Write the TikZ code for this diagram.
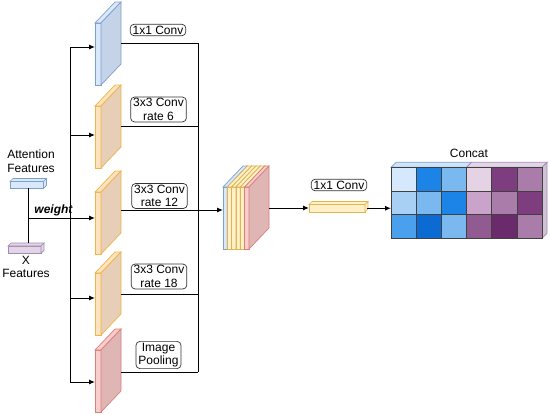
\documentclass[tikz,border=0pt]{standalone}
\usepackage{fontspec}
\setmainfont{Liberation Sans}
\usetikzlibrary{arrows.meta}
%colours
\definecolor{bfront}{HTML}{DAE8FC}
\definecolor{bside}{HTML}{C5D3E8}
\definecolor{bline}{HTML}{7F9FCB}
\definecolor{ofront}{HTML}{FDE3BD}
\definecolor{oside}{HTML}{E6CFB6}
\definecolor{oline}{HTML}{EDB54A}
\definecolor{rfront}{HTML}{F8CECC}
\definecolor{rside}{HTML}{DFB6B4}
\definecolor{rline}{HTML}{D9807C}
\definecolor{yfront}{HTML}{FFF0C8}
\definecolor{yline}{HTML}{E0B452}
\definecolor{pfront}{HTML}{E1D5E7}
\definecolor{pline}{HTML}{A58BB3}
\definecolor{bl1}{HTML}{D6E8FB}
\definecolor{bl2}{HTML}{A8D0F5}
\definecolor{bl3}{HTML}{7AB8F0}
\definecolor{bl4}{HTML}{4AA0EC}
\definecolor{bl5}{HTML}{1C84E6}
\definecolor{bl6}{HTML}{0B6BD3}
\definecolor{pu1}{HTML}{E5D2E5}
\definecolor{pu2}{HTML}{C9A3C9}
\definecolor{pu3}{HTML}{A97CA9}
\definecolor{pu4}{HTML}{915B91}
\definecolor{pu5}{HTML}{7E3D7E}
\definecolor{pu6}{HTML}{6B2A6B}
\newcommand\lblfont{\fontsize{12}{13.5}\selectfont}
%slab: name, x, top, y in, y out, look
\def\sw{6}\def\sh{62}\def\dx{20}\def\dy{21}
\newcommand\slab[6]{%
\filldraw[#6 front](#2,#3)rectangle++(\sw,\sh);
\filldraw[#6 front](#2,#3)--++(\dx,-\dy)--++(\sw,0)--++(-\dx,\dy)--cycle;
\filldraw[#6 side](#2+\sw,#3)--++(\dx,-\dy)--++(0,\sh)--++(-\dx,\dy)--cycle;
\coordinate(#1-in)at(#2,#4);
\coordinate(#1-out)at(#2+\sw+\dx,#5);}
%flat box: name, x1, y1, x2, y2, look
\newcommand\flatbox[6]{%
\filldraw[#6 front](#2,#3)rectangle(#4,#5);
\filldraw[#6 front](#2,#3)--++(3,-3)--(#4+3,#3-3)--(#4,#3)--cycle;
\filldraw[#6 front](#4,#3)--++(3,-3)--(#4+3,#5-3)--(#4,#5)--cycle;
\coordinate(#1-n)at(0.5*#2+0.5*#4,#3-3);
\coordinate(#1-s)at(0.5*#2+0.5*#4,#5);
\coordinate(#1-w)at(#2,0.5*#3+0.5*#5);
\coordinate(#1-e)at(#4+1.5,0.5*#3+0.5*#5);}
\tikzset{
blue front/.style={fill=bfront,draw=bline,line width=0.7pt},
blue side/.style={fill=bside,draw=bline,line width=0.7pt},
org front/.style={fill=ofront,draw=oline,line width=0.7pt},
org side/.style={fill=oside,draw=oline,line width=0.7pt},
red front/.style={fill=rfront,draw=rline,line width=0.7pt},
red side/.style={fill=rside,draw=rline,line width=0.7pt},
yel front/.style={fill=yfront,draw=yline,line width=0.7pt},
yel side/.style={fill=yfront,draw=yline,line width=0.7pt},
pur front/.style={fill=pfront,draw=pline,line width=0.7pt},
lbl/.style={draw=black!80,rounded corners=4pt,inner xsep=2.5pt,inner ysep=1.5pt,align=center,font=\lblfont,line width=0.7pt},
txt/.style={align=center,font=\lblfont,inner sep=0pt},
cell/.style={draw=black!75,line width=0.7pt},
con/.style={line width=1pt},
arr/.style={line width=1pt,-{Latex[length=6pt,width=5pt]}}
}
\begin{document}
\begin{tikzpicture}[x=1pt,y=-1pt]
\useasboundingbox(0,0)rectangle(550,415);
%inputs
\node[txt](attn)at(31,161){Attention\\Features};
\flatbox{att}{10}{181.5}{43.5}{188.3}{blue}
\flatbox{xf}{8}{246}{41}{253.3}{pur}
\node[txt](xfeat)at(26,267){X\\Features};
\coordinate(wj)at(28,218);
\draw[con](att-s-|wj)--(xf-n-|wj);
%branches
\slab{s1}{95}{23}{47}{43}{blue}
\slab{s2}{95}{106}{135}{126}{org}
\slab{s3}{95}{192}{218}{210}{org}
\slab{s4}{95}{273}{298}{294}{org}
\slab{s5}{95}{350}{382}{372}{red}
\draw[arr](wj)--(s3-in)node[pos=0.38,above=1.5pt,font=\lblfont\bfseries\itshape,inner sep=0pt](wt){weight};
\coordinate(bus)at(70,0);
\draw[con](bus|-s1-in)--(bus|-s5-in);
\foreach \s in {s1,s2,s4,s5}
\draw[arr](bus|-\s-in)--(\s-in);
\node[lbl](l1)at(158,30){1x1 Conv};
\node[lbl](l2)at(158.5,109.5){3x3 Conv\\rate 6};
\node[lbl](l3)at(159.5,196){3x3 Conv\\rate 12};
\node[lbl](l4)at(159,276.5){3x3 Conv\\rate 18};
\node[lbl](l5)at(158.5,355){Image\\Pooling};
%collect
\coordinate(col)at(198,0);
\foreach \s in {s1,s2,s4,s5}
\draw[con](\s-out)--(col|-\s-out);
\draw[con](col|-s1-out)--(col|-s5-out);
%stack
\begin{scope}
\def\sw{4.33}
\slab{k1}{223}{187}{210}{208}{blue}
\slab{k2}{227.33}{187}{210}{208}{yel}
\slab{k3}{231.67}{187}{210}{208}{yel}
\slab{k4}{236}{187}{210}{208}{yel}
\slab{k5}{240.33}{187}{210}{208}{yel}
\slab{k6}{244.67}{187}{210}{208}{red}
\end{scope}
\draw[arr](s3-out)--(k1-in);
%1x1 conv
\node[lbl](l6)at(339,185){1x1 Conv};
\flatbox{cv}{309}{204.5}{365}{212}{yel}
\draw[arr](k6-out)--(k6-out-|cv-w);
%concat
\node[txt](cat)at(469,153){Concat};
\coordinate(cc-in)at(391,208);
\draw[arr](cv-e)--(cv-e-|cc-in);
\filldraw[fill=bl1!85!bl2,draw=bline,line width=0.7pt](391,167.3)--(396,162.3)--(471.5,162.3)--(466.5,167.3)--cycle;
\filldraw[fill=pfront,draw=pline,line width=0.7pt](466.5,167.3)--(471.5,162.3)--(547,162.3)--(542,167.3)--cycle;
\filldraw[fill=pfront!90!black!95,draw=pline,line width=0.7pt](542,167.3)--(547,162.3)--(547,233.3)--(542,238.3)--cycle;
\foreach \c/\r/\k in {0/0/bl1,1/0/bl5,2/0/bl3,0/1/bl2,1/1/bl3,2/1/bl5,0/2/bl4,1/2/bl6,2/2/bl3,
3/0/pu1,4/0/pu5,5/0/pu3,3/1/pu2,4/1/pu3,5/1/pu5,3/2/pu4,4/2/pu6,5/2/pu3}
\draw[cell,fill=\k](391+25.17*\c,167.3+23.67*\r)rectangle++(25.17,23.67);
\end{tikzpicture}
\end{document}
